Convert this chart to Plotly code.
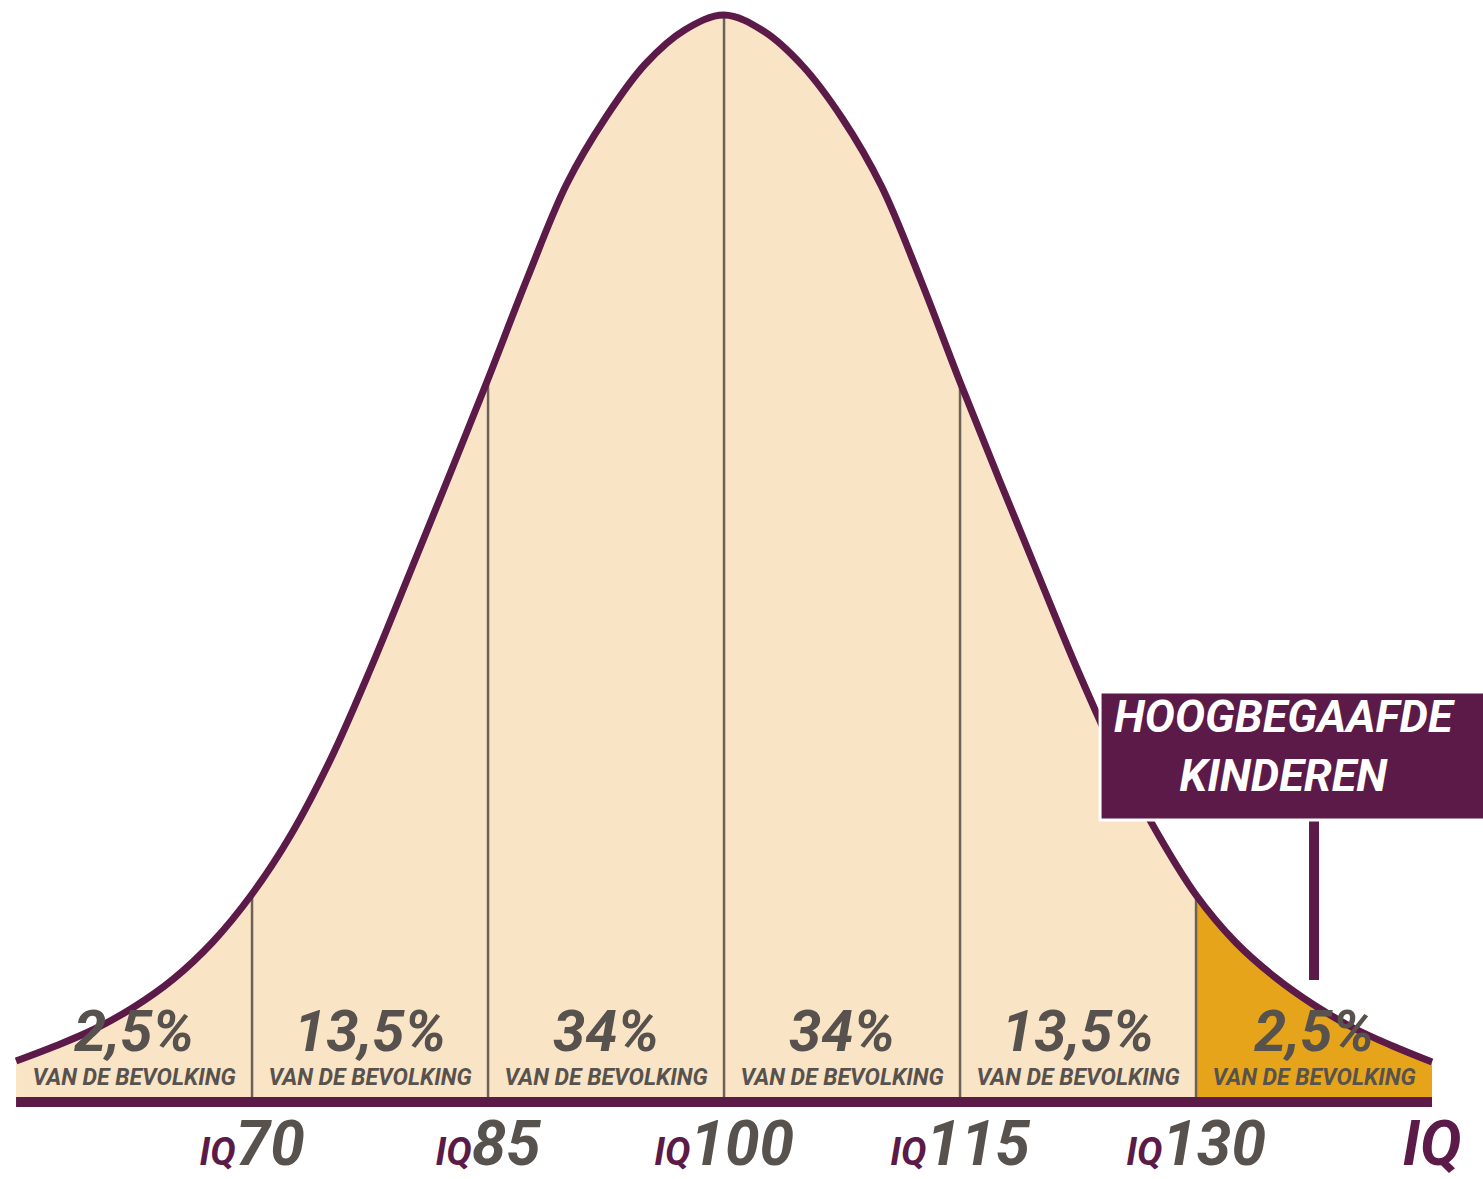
import plotly.graph_objects as go

# ---------------- data ----------------
iq = [55, 57.5, 60, 62.5, 65, 67.5, 70, 72.5, 75, 77.5, 80, 82.5, 85, 87.5, 90,
      92.5, 95, 97.5, 100, 102.5, 105, 107.5, 110, 112.5, 115, 117.5, 120,
      122.5, 125, 127.5, 130, 132.5, 135, 137.5, 140, 142.5, 145]
height = [41, 56, 73, 95, 123, 160, 208, 268, 343, 432, 528, 625, 723, 824, 918,
          985, 1038, 1072, 1087, 1071, 1036, 984, 916, 822, 720, 622, 526,
          431, 344, 270, 207, 160, 125, 97, 74, 56, 40]
bounds = [55, 70, 85, 100, 115, 130, 145]
pct_labels = ["2,5%", "13,5%", "34%", "34%", "13,5%", "2,5%"]
sub_label = "VAN DE BEVOLKING"
tick_vals = [70, 85, 100, 115, 130, 145]
tick_nums = ["70", "85", "100", "115", "130", None]
axis_name = "IQ"
callout_lines = ["HOOGBEGAAFDE", "KINDEREN"]
gifted_from = 130
callout_iq = 137.5

# ---------------- style ----------------
PURPLE = "#5c1a48"
CREAM = "#f9e4c6"
ORANGE = "#e6a41a"
GRAY = "#57524e"
LINE_GRAY = "#6d6258"
FONT = "Roboto, Liberation Sans, sans-serif"

fig = go.Figure()

# cream area under the whole curve
fig.add_trace(go.Scatter(x=iq, y=height, mode="lines",
                         line=dict(shape="spline", width=0, color=CREAM),
                         fill="tozeroy", fillcolor=CREAM, hoverinfo="skip"))
# orange area for the gifted tail
gi = [i for i, v in enumerate(iq) if v >= gifted_from]
fig.add_trace(go.Scatter(x=[iq[i] for i in gi], y=[height[i] for i in gi], mode="lines",
                         line=dict(shape="spline", width=0, color=ORANGE),
                         fill="tozeroy", fillcolor=ORANGE, hoverinfo="skip"))
# vertical separators
vx, vy = [], []
for b in bounds[1:-1]:
    vx += [b, b, None]
    vy += [0, height[iq.index(b)], None]
fig.add_trace(go.Scatter(x=vx, y=vy, mode="lines",
                         line=dict(color=LINE_GRAY, width=2.5), hoverinfo="skip"))
# curve outline
fig.add_trace(go.Scatter(x=iq, y=height, mode="lines",
                         line=dict(shape="spline", width=7, color=PURPLE), hoverinfo="skip"))
# baseline
fig.add_trace(go.Scatter(x=[bounds[0], bounds[-1]], y=[0, 0], mode="lines",
                         line=dict(color=PURPLE, width=10), hoverinfo="skip"))

# segment labels
centers = [(a + b) / 2 for a, b in zip(bounds[:-1], bounds[1:])]
fig.add_trace(go.Scatter(x=centers, y=[66] * len(centers), mode="text", text=pct_labels,
                         textposition="middle center",
                         textfont=dict(family=FONT, size=58, color=GRAY,
                                       weight="bold", style="italic"),
                         hoverinfo="skip"))
fig.add_trace(go.Scatter(x=centers, y=[23] * len(centers), mode="text",
                         text=[sub_label] * len(centers),
                         textposition="middle center",
                         textfont=dict(family=FONT, size=23, color=GRAY,
                                       weight="bold", style="italic"),
                         hoverinfo="skip"))

# callout box + stem
fig.add_shape(type="line", x0=callout_iq, x1=callout_iq, y0=122, y1=282,
              line=dict(color=PURPLE, width=10), layer="above")
fig.add_shape(type="rect", x0=123.9, x1=150, y0=282, y1=410,
              fillcolor=PURPLE, line=dict(color="white", width=3), layer="above")
fig.add_annotation(x=135.6, y=356, text="<br>".join(callout_lines), showarrow=False,
                   xanchor="center", yanchor="middle", align="center",
                   font=dict(family=FONT, size=45, color="white",
                             weight="bold", style="italic"))

# tick labels
ticktext = []
for n in tick_nums:
    if n is None:
        ticktext.append(f"<span style='color:{PURPLE}'>{axis_name}</span>")
    else:
        ticktext.append(f"<span style='font-size:38px;color:{PURPLE}'>{axis_name}</span>{n}")

fig.update_layout(
    width=1483, height=1179,
    margin=dict(l=0, r=0, t=0, b=0, autoexpand=False),
    plot_bgcolor="white", paper_bgcolor="white",
    showlegend=False,
    xaxis=dict(range=[53.98, 148.24], showgrid=False, zeroline=False, showline=False,
               tickvals=tick_vals, ticktext=ticktext, ticks="",
               ticklabelstandoff=-18, automargin=False,
               tickfont=dict(family=FONT, size=62, color=GRAY,
                             weight="bold", style="italic")),
    yaxis=dict(range=[-18, 1102], domain=[0.05004, 1], visible=False, automargin=False),
)

fig.write_html("out.html", config={"displayModeBar": False},
               post_script="document.body.style.margin='0px';")
